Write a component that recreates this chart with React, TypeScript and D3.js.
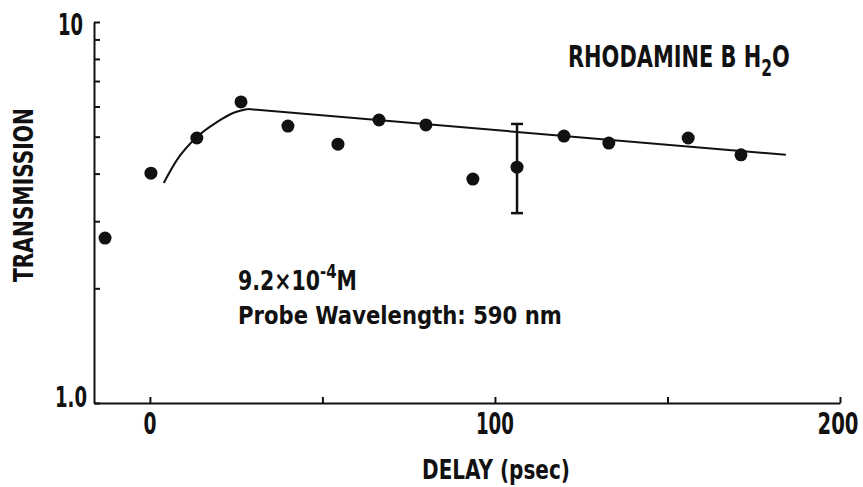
import React, { useEffect, useRef } from "react";
import * as d3 from "d3";

const delay = [-13, 0.3, 13.6, 26.4, 40, 54.5, 66.4, 80, 93.6, 106.4, 120, 133, 156, 171.3];
const transmission = [2.71, 4.01, 4.96, 6.17, 5.33, 4.78, 5.53, 5.37, 3.87, 4.16, 5.02, 4.81, 4.96, 4.48];

const fitRiseDelay = [4.0, 7.8, 13.6, 19.4, 24.1, 28.4];
const fitRiseTrans = [3.78, 4.34, 4.99, 5.46, 5.77, 5.91];
const fitTailDelay = [28.4, 184.3];
const fitTailTrans = [5.91, 4.48];

const errDelay = 106.4;
const errLow = 3.15;
const errHigh = 5.4;

const xTickValues = [0, 50, 100, 150, 200];
const xLabelValues = [0, 100, 200];
const xTickLabels = ["0", "100", "200"];
const yTickValues = [1, 2, 3, 4, 5, 6, 7, 8, 9, 10];
const yTickLabels = ["1.0", "10"];

const W = 863;
const H = 487;
const FONT = "'Liberation Sans Narrow', 'DejaVu Sans Condensed', 'Liberation Sans', sans-serif";

export default function App() {
  const ref = useRef<SVGSVGElement>(null);

  useEffect(() => {
    const svg = d3.select(ref.current);
    svg.selectAll("*").remove();

    const x = d3.scaleLinear().domain([-16.2, 200]).range([94, 840]);
    const y = d3.scaleLog().domain([1, 10]).range([403, 22]);

    svg.append("rect").attr("width", W).attr("height", H).attr("fill", "#fff");

    // Y axis
    const yAxis = d3
      .axisLeft(y)
      .tickValues(yTickValues)
      .tickSizeInner(-6)
      .tickSizeOuter(0)
      .tickFormat(() => "");
    const gy = svg.append("g").attr("transform", `translate(${x(-16.2)},0)`).call(yAxis);
    gy.selectAll("path, line").attr("stroke", "#111").attr("stroke-width", 2);

    // X axis
    const xAxis = d3
      .axisBottom(x)
      .tickValues(xTickValues)
      .tickSizeInner(-6)
      .tickSizeOuter(0)
      .tickFormat(() => "");
    const gx = svg.append("g").attr("transform", `translate(0,${y(1)})`).call(xAxis);
    gx.selectAll("path, line").attr("stroke", "#111").attr("stroke-width", 2);

    // Text helper: draws text at (0,0), then squeezes it horizontally to a target width
    const fitText = (
      px: number,
      py: number,
      width: number,
      size: number,
      build: (t: any) => void,
      rotate = 0
    ) => {
      const g = svg.append("g");
      const t = g
        .append("text")
        .attr("font-family", FONT)
        .attr("font-weight", "bold")
        .attr("fill", "#111")
        .attr("font-size", size);
      build(t);
      const node = t.node() as SVGTextElement;
      const natural = node.getComputedTextLength() || width;
      const s = width / natural;
      g.attr("transform", `translate(${px},${py}) rotate(${rotate}) scale(${s},1)`);
      return g;
    };

    // X tick labels
    const xLabelWidths = [13, 38, 41];
    xLabelValues.forEach((v, i) => {
      const w = xLabelWidths[i];
      fitText(x(v) - w / 2 + (i === 2 ? -2 : 0), 434, w, 30, (t) => t.text(xTickLabels[i]));
    });

    // Y tick labels
    fitText(55, y(1) + 4, 32, 28, (t) => t.text(yTickLabels[0]));
    fitText(58, y(10) + 13, 25, 30, (t) => t.text(yTickLabels[1]));

    // Axis titles
    fitText(33, 195 + 87, 174, 26, (t) => t.text("TRANSMISSION"), -90);
    fitText(422, 479, 148, 27, (t) => t.text("DELAY (psec)"));

    // Fit curve
    const line = d3
      .line<[number, number]>()
      .x((d) => x(d[0]))
      .y((d) => y(d[1]));
    const rise: [number, number][] = fitRiseDelay.map((d, i) => [d, fitRiseTrans[i]]);
    const tail: [number, number][] = fitTailDelay.map((d, i) => [d, fitTailTrans[i]]);
    svg
      .append("path")
      .attr("d", line.curve(d3.curveMonotoneX)(rise) as string)
      .attr("fill", "none")
      .attr("stroke", "#111")
      .attr("stroke-width", 2);
    svg
      .append("path")
      .attr("d", line.curve(d3.curveLinear)(tail) as string)
      .attr("fill", "none")
      .attr("stroke", "#111")
      .attr("stroke-width", 2);

    // Error bar
    const ex = x(errDelay);
    svg
      .append("line")
      .attr("x1", ex)
      .attr("x2", ex)
      .attr("y1", y(errHigh))
      .attr("y2", y(errLow))
      .attr("stroke", "#111")
      .attr("stroke-width", 2.5);
    [errHigh, errLow].forEach((v) => {
      svg
        .append("line")
        .attr("x1", ex - 6)
        .attr("x2", ex + 6)
        .attr("y1", y(v))
        .attr("y2", y(v))
        .attr("stroke", "#111")
        .attr("stroke-width", 2.5);
    });

    // Points
    svg
      .selectAll("circle.pt")
      .data(delay.map((d, i) => [d, transmission[i]]))
      .enter()
      .append("circle")
      .attr("class", "pt")
      .attr("cx", (d) => x(d[0]))
      .attr("cy", (d) => y(d[1]))
      .attr("r", 6.5)
      .attr("fill", "#111");

    // Annotations
    fitText(568, 67, 222, 31, (t) => {
      t.append("tspan").text("RHODAMINE B H");
      t.append("tspan").attr("dy", 9).attr("font-size", 23).text("2");
      t.append("tspan").attr("dy", -9).text("O");
    });

    fitText(238, 290, 119, 26, (t) => {
      t.append("tspan").text("9.2×10");
      t.append("tspan").attr("dy", -12).attr("font-size", 19).text("-4");
      t.append("tspan").attr("dy", 12).text("M");
    });

    fitText(238, 324, 324, 25, (t) => t.text("Probe Wavelength: 590 nm"));
  }, []);

  return (
    <div style={{ position: "fixed", left: 0, top: 0, width: W, height: H }}>
      <svg ref={ref} width={W} height={H} style={{ display: "block" }} />
    </div>
  );
}
